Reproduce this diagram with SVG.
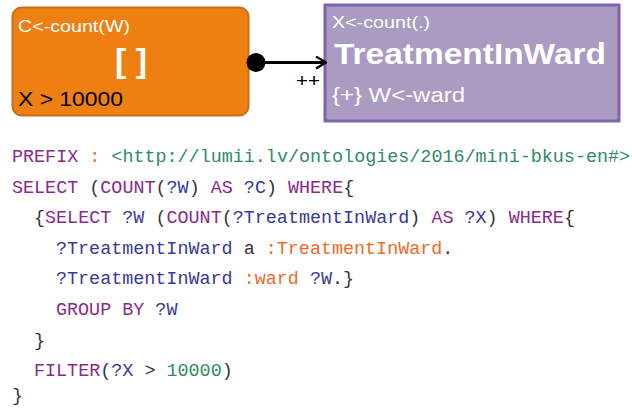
<svg xmlns="http://www.w3.org/2000/svg" width="632" height="409" viewBox="0 0 632 409">
  <style>
    .lbl { font-family: "Liberation Sans", Arial, sans-serif; fill: #ffffff; }
    .code { font-family: "Liberation Mono", "DejaVu Sans Mono", monospace; font-size: 18.4px; fill: #333333; white-space: pre; }
    .kw { fill: #8a2a8c; }
    .var { fill: #35399b; }
    .iri { fill: #2e8b63; }
    .cls { fill: #f06a28; }
    .pun { fill: #333333; }
  </style>
  <defs>
    <marker id="openArrow" viewBox="0 0 12 14" refX="11" refY="7" markerWidth="12" markerHeight="14" markerUnits="userSpaceOnUse" orient="auto">
      <path d="M1,1 L11,7 L1,13" fill="none" stroke="#000" stroke-width="2.2"/>
    </marker>
  </defs>

  <!-- aggregate query node -->
  <g id="node-aggregate">
    <rect x="12.5" y="7.5" width="236" height="108" rx="9" ry="9" fill="#ee8011" stroke="#c96e1c" stroke-width="2"/>
    <text class="lbl" x="18" y="32" font-size="17" textLength="112" lengthAdjust="spacingAndGlyphs">C&lt;-count(W)</text>
    <text class="lbl" x="131" y="72" font-size="34" font-weight="bold" text-anchor="middle">[ ]</text>
    <text x="18" y="106" font-family="Liberation Sans, Arial, sans-serif" font-size="20" fill="#000" textLength="105" lengthAdjust="spacingAndGlyphs">X &gt; 10000</text>
  </g>

  <!-- class node -->
  <g id="node-treatment">
    <rect x="325" y="5" width="294" height="116" fill="#a99bc2" stroke="#7e64aa" stroke-width="3"/>
    <text class="lbl" x="332" y="28" font-size="17" textLength="98" lengthAdjust="spacingAndGlyphs">X&lt;-count(.)</text>
    <text class="lbl" x="334" y="64" font-size="29" font-weight="bold" textLength="272" lengthAdjust="spacingAndGlyphs">TreatmentInWard</text>
    <text class="lbl" x="332" y="102" font-size="21" textLength="133" lengthAdjust="spacingAndGlyphs">{+} W&lt;-ward</text>
  </g>

  <!-- connectors -->
  <g id="connectors">
    <line x1="256" y1="62.5" x2="326" y2="62.5" stroke="#000" stroke-width="3" marker-end="url(#openArrow)"/>
    <circle cx="256" cy="62.5" r="9.5" fill="#000"/>
    <text x="296" y="87" font-family="Liberation Sans, Arial, sans-serif" font-size="19" fill="#000" textLength="24" lengthAdjust="spacingAndGlyphs">++</text>
  </g>

  <!-- SPARQL listing -->
  <g id="sparql">
    <text class="code" x="12" y="162"><tspan class="kw">PREFIX</tspan> <tspan class="cls">:</tspan> <tspan class="iri">&lt;http://lumii.lv/ontologies/2016/mini-bkus-en#&gt;</tspan></text>
    <text class="code" x="12" y="192.5"><tspan class="kw">SELECT</tspan> <tspan class="pun">(</tspan><tspan class="kw">COUNT</tspan><tspan class="pun">(</tspan><tspan class="var">?W</tspan><tspan class="pun">)</tspan> <tspan class="kw">AS</tspan> <tspan class="var">?C</tspan><tspan class="pun">)</tspan> <tspan class="kw">WHERE</tspan><tspan class="pun">{</tspan></text>
    <text class="code" x="34" y="223"><tspan class="pun">{</tspan><tspan class="kw">SELECT</tspan> <tspan class="var">?W</tspan> <tspan class="pun">(</tspan><tspan class="kw">COUNT</tspan><tspan class="pun">(</tspan><tspan class="var">?TreatmentInWard</tspan><tspan class="pun">)</tspan> <tspan class="kw">AS</tspan> <tspan class="var">?X</tspan><tspan class="pun">)</tspan> <tspan class="kw">WHERE</tspan><tspan class="pun">{</tspan></text>
    <text class="code" x="56" y="253.5"><tspan class="var">?TreatmentInWard</tspan> <tspan class="pun">a</tspan> <tspan class="cls">:TreatmentInWard</tspan><tspan class="pun">.</tspan></text>
    <text class="code" x="56" y="284"><tspan class="var">?TreatmentInWard</tspan> <tspan class="cls">:ward</tspan> <tspan class="var">?W</tspan><tspan class="pun">.}</tspan></text>
    <text class="code" x="56" y="314.5"><tspan class="kw">GROUP BY</tspan> <tspan class="var">?W</tspan></text>
    <text class="code" x="34" y="346"><tspan class="pun">}</tspan></text>
    <text class="code" x="34" y="375.5"><tspan class="kw">FILTER</tspan><tspan class="pun">(</tspan><tspan class="var">?X</tspan> <tspan class="pun">&gt;</tspan> <tspan class="iri">10000</tspan><tspan class="pun">)</tspan></text>
    <text class="code" x="12" y="401"><tspan class="pun">}</tspan></text>
  </g>
</svg>
